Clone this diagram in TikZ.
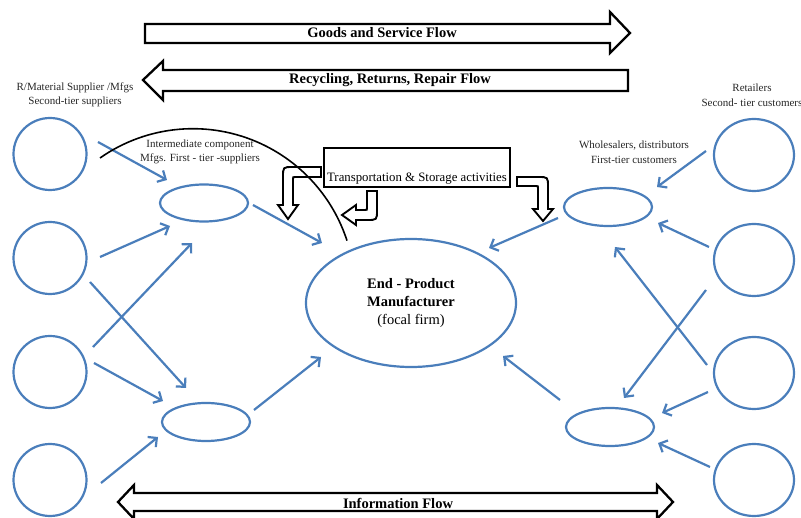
\documentclass[tikz,border=0pt]{standalone}
\usepackage{fontspec}
\setmainfont{Liberation Serif}
\usetikzlibrary{arrows.meta,calc,shapes.geometric}
\definecolor{flowblue}{RGB}{74,126,187}

\begin{document}
\begin{tikzpicture}[x=1pt, y=-1pt,
    party/.style={ellipse, draw=flowblue, line width=2.2pt, inner sep=0pt},
    feed/.style={flowblue, line width=2.2pt, -{Straight Barb[length=6.5pt,width=13pt]}},
    bigflow/.style={draw=black, line width=2.3pt, fill=white},
    bent/.style={draw=black, line width=1.9pt, fill=white},
    tier/.style={align=center, text=black!85, font=\fontsize{11}{14.5}\selectfont},
    flowtext/.style={font=\fontsize{14.5}{16}\selectfont\bfseries}]
  \useasboundingbox (0,0) rectangle (801,518);

  % flows along the whole chain
  \draw[bigflow] (145,24) -- (610,24) -- (610,12) -- (630,33) -- (610,53) -- (610,43) -- (145,43) -- cycle;
  \node[flowtext] (goods) at (382,33) {Goods and Service Flow};
  \draw[bigflow] (628,70) -- (163,70) -- (163,61) -- (143,80) -- (163,100) -- (163,91) -- (628,91) -- cycle;
  \node[flowtext] (recycle) at (390,80) {Recycling, Returns, Repair Flow};
  \draw[bigflow] (134,493) -- (657,493) -- (657,485) -- (673,502) -- (657,519) -- (657,511) -- (134,511) -- (134,519) -- (118,502) -- (134,485) -- cycle;
  \node[flowtext] (info) at (398,503) {Information Flow};

  % tier labels
  \node[tier] (supl) at (75,95) {R/Material Supplier /Mfgs\\Second-tier suppliers};
  \node[tier] (interm) at (200,152) {Intermediate component\\Mfgs. First - tier -suppliers};
  \node[tier] (whole) at (634,152) {Wholesalers, distributors\\First-tier customers};
  \node[tier] (retail) at (752,95) {Retailers\\Second- tier customers};

  % the firms
  \foreach \y [count=\i] in {154,258,372,480}
    \node[party, minimum width=73pt, minimum height=72pt] (s\i) at (50,\y) {};
  \foreach \y [count=\i] in {155,260,373,480}
    \node[party, minimum width=80pt, minimum height=72pt] (r\i) at (754,\y) {};
  \node[party, minimum width=88pt, minimum height=37pt] (m1) at (204,203) {};
  \node[party, minimum width=88pt, minimum height=38pt] (m2) at (206,422) {};
  \node[party, minimum width=88pt, minimum height=38pt] (w1) at (608,207) {};
  \node[party, minimum width=88pt, minimum height=38pt] (w2) at (610,427) {};
  \node[party, minimum width=210pt, minimum height=128pt, align=center,
    font=\fontsize{14.5}{18}\selectfont] (focal) at (411,303)
    {\textbf{End - Product}\\\textbf{Manufacturer}\\(focal firm)};

  % supplier side
  \draw[feed] ($(s1)+(48,-12)$) -- ($(m1)+(-37,-23)$);
  \draw[feed] ($(s2)+(50,-1)$) -- ($(m1)+(-34,23)$);
  \draw[feed] ($(s2)+(40,24)$) -- ($(m2)+(-20,-34)$);
  \draw[feed] ($(s3)+(43,-25)$) -- ($(m1)+(-12,40)$);
  \draw[feed] ($(s3)+(44,-9)$) -- ($(m2)+(-43,-21)$);
  \draw[feed] ($(s4)+(51,3)$) -- ($(m2)+(-48,15)$);
  \draw[feed] ($(m1)+(49,2)$) -- ($(focal)+(-89,-60)$);
  \draw[feed] ($(m2)+(48,-12)$) -- ($(focal)+(-90,54)$);

  % customer side
  \draw[feed] ($(w1)+(-50,11)$) -- ($(focal)+(78,-55)$);
  \draw[feed] ($(r1)+(-48,-4)$) -- ($(w1)+(49,-20)$);
  \draw[feed] ($(r2)+(-45,-13)$) -- ($(w1)+(50,16)$);
  \draw[feed] ($(r2)+(-48,30)$) -- ($(w2)+(14,-29)$);
  \draw[feed] ($(r3)+(-47,-8)$) -- ($(w1)+(7,40)$);
  \draw[feed] ($(r3)+(-46,19)$) -- ($(w2)+(52,-14)$);
  \draw[feed] ($(r4)+(-44,-13)$) -- ($(w2)+(48,16)$);
  \draw[feed] ($(w2)+(-50,-27)$) -- ($(focal)+(92,53)$);

  % transportation and storage
  \node[draw, line width=1.5pt, minimum width=186pt, minimum height=39pt,
    text height=31pt, text depth=3pt, inner sep=2.5pt,
    font=\fontsize{12.8}{14}\selectfont] (trans) at (417,167.5) {Transportation \& Storage activities};
  \draw[bent] (321,167) -- (293,167) .. controls (283,167) .. (283,177) -- (283,205) -- (278,205)
    -- (288,219) -- (298,205) -- (293,205) -- (293,179) .. controls (293,177) .. (295,177) -- (321,177) -- cycle;
  \draw[bent] (367,191) -- (377,191) -- (377,210) .. controls (377,220) .. (367,220) -- (356,220) -- (356,225)
    -- (342,215) -- (356,205) -- (356,210) -- (365,210) .. controls (367,210) .. (367,208) -- cycle;
  \draw[bent] (517,177) -- (538,177) .. controls (548,177) .. (548,187) -- (548,209) -- (553,209)
    -- (543,221) -- (533,209) -- (538,209) -- (538,188) .. controls (538,186) .. (536,186) -- (517,186) -- cycle;

  %\draw (192,291) circle (162);
  \draw[line width=1.6pt] (100,158) arc[start angle=-125, end angle=-18, radius=162];
\end{tikzpicture}
\end{document}
